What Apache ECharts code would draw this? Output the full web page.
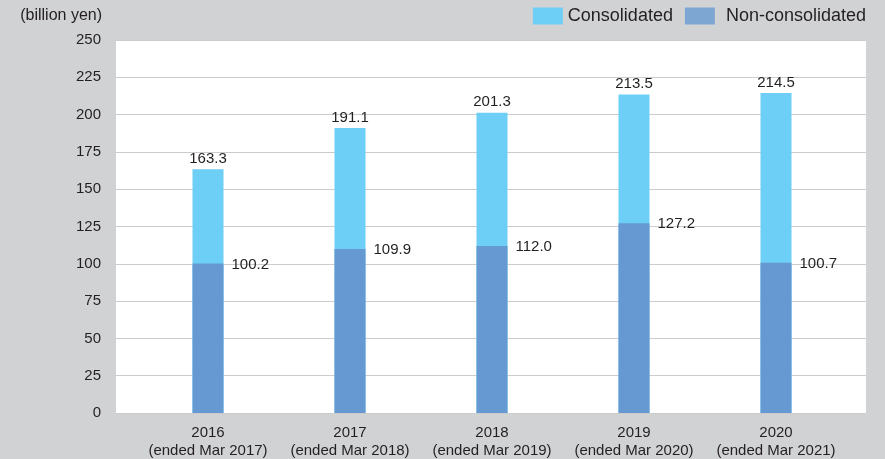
<!DOCTYPE html>
<html>
<head>
<meta charset="utf-8">
<script src="https://cdn.jsdelivr.net/npm/echarts@6/dist/echarts.min.js"></script>
<style>
  html, body { margin: 0; padding: 0; background: #d1d2d4; }
  #chart { width: 885px; height: 459px; }
</style>
</head>
<body>
<div id="chart"></div>
<script>
var years = ['2016', '2017', '2018', '2019', '2020'];
var endedLabels = ['(ended Mar 2017)', '(ended Mar 2018)', '(ended Mar 2019)', '(ended Mar 2020)', '(ended Mar 2021)'];
var consolidated = [163.3, 191.1, 201.3, 213.5, 214.5];
var nonConsolidated = [100.2, 109.9, 112.0, 127.2, 100.7];

var textColor = '#231f20';
var font = 'Liberation Sans';

var categories = [];
for (var i = 0; i < years.length; i++) {
    categories.push(years[i] + '\n' + endedLabels[i]);
}

var option = {
    backgroundColor: '#d1d2d4',
    animation: false,
    textStyle: { fontFamily: font, color: textColor },
    legend: {
        top: 2,
        right: 14,
        icon: 'rect',
        itemWidth: 30,
        itemHeight: 17,
        itemGap: 12,
        textStyle: {
            fontSize: 18, color: textColor, fontFamily: font,
            rich: { pad: { fontSize: 18, color: textColor, fontFamily: font, padding: [0, 0, 0, 6] } }
        },
        formatter: function (name) {
            return name === 'Non-consolidated' ? '{pad|' + name + '}' : name;
        },
        data: [
            { name: 'Consolidated', itemStyle: { color: '#6dcff6' } },
            { name: 'Non-consolidated', itemStyle: { color: '#7ea6d3' } }
        ]
    },
    grid: [
        // white panel + gridlines
        { left: 116, right: 19, top: 40, bottom: 46, show: true, backgroundColor: '#ffffff', borderWidth: 0, outerBoundsMode: 'none' },
        // bars
        { left: 137, right: 38, top: 40, bottom: 46, outerBoundsMode: 'none' }
    ],
    xAxis: [
        { gridIndex: 0, type: 'value', min: 0, max: 1, show: false },
        {
            gridIndex: 1,
            type: 'category',
            data: categories,
            axisLine: { show: false },
            axisTick: { show: false },
            axisLabel: {
                interval: 0,
                color: textColor,
                fontSize: 15,
                lineHeight: 18,
                margin: 11,
                fontFamily: font
            }
        }
    ],
    yAxis: [
        {
            gridIndex: 0,
            type: 'value',
            min: 0,
            max: 250,
            interval: 25,
            name: '(billion yen)',
            nameLocation: 'end',
            nameGap: 16,
            nameTextStyle: { align: 'right', color: textColor, fontSize: 16, padding: [0, 14, 0, 0], fontFamily: font },
            axisLine: { show: false },
            axisTick: { show: false },
            axisLabel: { color: textColor, fontSize: 15, margin: 15, fontFamily: font },
            splitLine: { lineStyle: { color: '#cccccc', width: 1 } }
        },
        { gridIndex: 1, type: 'value', min: 0, max: 250, show: false }
    ],
    series: [
        {
            name: 'Consolidated',
            type: 'bar',
            xAxisIndex: 1,
            yAxisIndex: 1,
            barWidth: 31,
            barGap: '-100%',
            data: consolidated,
            itemStyle: { color: '#6dcff6' },
            label: {
                show: true,
                position: 'top',
                distance: 3,
                color: textColor,
                fontSize: 15,
                fontFamily: font,
                formatter: function (p) { return p.value.toFixed(1); }
            }
        },
        {
            name: 'Non-consolidated',
            type: 'bar',
            xAxisIndex: 1,
            yAxisIndex: 1,
            barWidth: 31,
            barGap: '-100%',
            data: nonConsolidated,
            itemStyle: { color: '#6699d1' },
            label: {
                show: true,
                position: ['100%', 0],
                offset: [8, 1],
                align: 'left',
                verticalAlign: 'middle',
                color: textColor,
                fontSize: 15,
                fontFamily: font,
                formatter: function (p) { return p.value.toFixed(1); }
            }
        }
    ]
};

var chart = echarts.init(document.getElementById('chart'));
chart.setOption(option);
</script>
</body>
</html>
